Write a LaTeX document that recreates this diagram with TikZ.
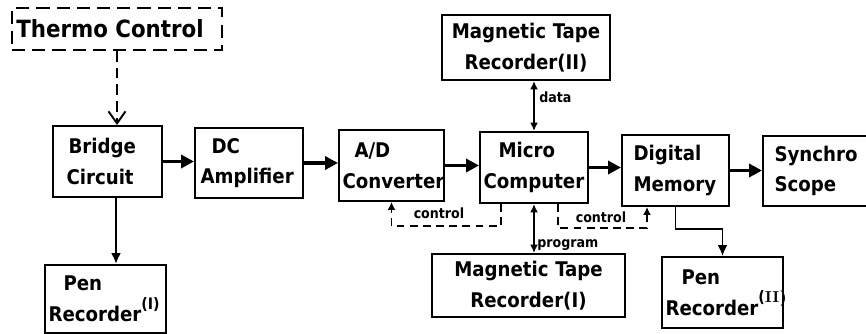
\documentclass[tikz,border=0pt]{standalone}
\usepackage{fontspec}
\usetikzlibrary{arrows.meta}
\newfontfamily\blkfont{DejaVu Sans Condensed}
\newlength\upx
\setlength\upx{0.02cm}
\newcommand{\supnum}[1]{\raisebox{1.1ex}{\fontsize{9}{9}\selectfont(#1)}}
\tikzset{
  blk/.style 2 args={rectangle,draw,line width=1.1pt,minimum width=#1*0.02cm,minimum height=#2*0.02cm,
    text width=#1*0.02cm-4pt,inner xsep=2pt,inner ysep=0pt,align=left,
    font=\blkfont\bfseries\fontsize{11.5}{17.5}\selectfont},
  dashblk/.style={rectangle,draw,line width=1.1pt,dash pattern=on 7.5pt off 4pt,inner sep=0pt},
  mainflow/.style={-{Triangle[length=2.6mm,width=2.6mm]},line width=2.1pt},
  thinflow/.style={-{Latex[length=2.2mm,width=2mm]},line width=1.1pt},
  bothflow/.style={{Latex[length=1.7mm,width=1.6mm]}-{Latex[length=1.7mm,width=1.6mm]},line width=1.2pt},
  ctrlflow/.style={-{Latex[length=1.6mm,width=1.6mm]},line width=1.1pt,dash pattern=on 4.5pt off 3pt},
  tag/.style={font=\blkfont\bfseries\fontsize{8}{9}\selectfont,inner sep=0pt}
}
\begin{document}
\begin{tikzpicture}[x=0.02cm,y=-0.02cm]
  \clip (0,0) rectangle (866,334);

  % boxes of the measuring chain
  \node[dashblk,minimum width=4.2cm,minimum height=0.84cm,
        font=\blkfont\bfseries\fontsize{13.5}{15}\selectfont] (thermo) at (117,29) {\hspace*{-0.28cm}Thermo\ Control};
  \node[blk={109}{71}] (bridge) at (107.5,161.5) {\hspace*{12\upx}Bridge\\\hspace*{10\upx}Circuit};
  \node[blk={108}{70}] (dcamp) at (249,163) {\hspace*{13\upx}DC\\\hspace*{2\upx}Amplifier};
  \node[blk={105}{71}] (adconv) at (391.5,165.5) {\hspace*{12\upx}A/D\\Converter};
  \node[blk={108}{71}] (micro) at (534,167.5) {\hspace*{15\upx}Micro\\Computer};
  \node[blk={107}{71}] (digmem) at (675.5,170.5) {\hspace*{8\upx}Digital\\\hspace*{8\upx}Memory};
  \node[blk={117}{70}] (synchro) at (821.5,171) {\hspace*{8\upx}Synchro\\\hspace*{8\upx}Scope};

  % recorders
  \node[blk={168}{65},align=center] (mtr2) at (526,47.5) {Magnetic Tape\\Recorder(II)};
  \node[blk={193}{63},align=center] (mtr1) at (528.5,285.5) {Magnetic Tape\\Recorder(I)};
  \node[blk={121}{68}] (pen1) at (105.5,299) {\hspace*{15\upx}Pen\\Recorder\supnum{I}};
  \node[blk={121}{71}] (pen2) at (722.5,292.5) {\hspace*{16\upx}Pen\\Recorder\supnum{\rmfamily\bfseries II}};

  % signal path
  \draw[mainflow] (bridge.east) -- (bridge.east -| dcamp.west);
  \draw[mainflow] (dcamp.east) -- (dcamp.east -| adconv.west);
  \draw[mainflow] (adconv.east) -- (adconv.east -| micro.west);
  \draw[mainflow] (micro.east) -- (micro.east -| digmem.west);
  \draw[mainflow] (digmem.east) -- (digmem.east -| synchro.west);

  \draw[-{Straight Barb[length=2.4mm,width=3.4mm]},line width=1.1pt,dash pattern=on 6pt off 3.5pt]
    (thermo.south) -- (thermo.south |- bridge.north);
  \draw[thinflow,line width=1.4pt] ([xshift=0.17cm]bridge.south) -- ([xshift=0.17cm]bridge.south |- pen1.north);
  \draw[thinflow] (digmem.south) -- ++(0,22) -| (pen2.north);

  % tape recorders
  \draw[bothflow] (micro.north) -- (micro.north |- mtr2.south);
  \draw[bothflow] (micro.south) -- (micro.south |- mtr1.north);
  \node[tag,anchor=west] (datatag) at (539,97) {data};
  \node[tag,anchor=west] (progtag) at (537,245) {program};

  % control lines
  \draw[ctrlflow] ([xshift=-0.66cm]micro.south) -- ++(0,22) -| (adconv.south);
  \draw[ctrlflow] ([xshift=0.48cm]micro.south) -- ++(0,24) -| ([xshift=-0.57cm]digmem.south);
  \node[tag] (ctrl1) at (439,213) {control};
  \node[tag] (ctrl2) at (601,217) {control};
\end{tikzpicture}
\end{document}
